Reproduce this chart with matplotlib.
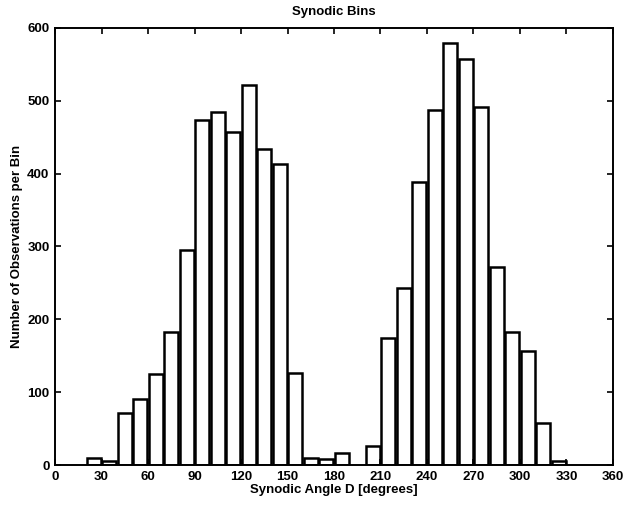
import matplotlib
matplotlib.use("Agg")
import matplotlib.pyplot as plt
import numpy as np

# bin centres (degrees) and counts per 10-degree bin
bin_centers = [25, 35, 45, 55, 65, 75, 85, 95, 105, 115, 125, 135, 145, 155, 165, 175, 185,
               205, 215, 225, 235, 245, 255, 265, 275, 285, 295, 305, 315, 325]
counts = [10, 6, 71, 91, 125, 183, 295, 473, 484, 457, 522, 434, 413, 126, 10, 8, 17,
          26, 175, 243, 388, 488, 580, 558, 492, 272, 182, 157, 58, 6]
x_ticks = [0, 30, 60, 90, 120, 150, 180, 210, 240, 270, 300, 330, 360]
y_ticks = [0, 100, 200, 300, 400, 500, 600]

plt.rcParams["font.family"] = ["Liberation Sans", "DejaVu Sans"]

fig = plt.figure(figsize=(6.26, 5.08), dpi=100)
ax = fig.add_axes([0.0879, 0.0846, 0.8913, 0.8604])

ax.bar(bin_centers, counts, width=9.0, color="white", edgecolor="black", linewidth=1.8)

ax.set_xlim(0, 360)
ax.set_ylim(0, 600)
ax.set_xticks(x_ticks)
ax.set_yticks(y_ticks)
ax.tick_params(direction="in", top=True, right=True, length=4, width=1.2,
               labelsize=9.5, pad=4)
for lab in ax.get_xticklabels() + ax.get_yticklabels():
    lab.set_fontweight("bold")
for s in ax.spines.values():
    s.set_linewidth(1.4)

ax.set_title("Synodic Bins", fontsize=9.5, fontweight="bold", pad=9)
ax.set_xlabel("Synodic Angle D [degrees]", fontsize=9.5, fontweight="bold", labelpad=1)
ax.set_ylabel("Number of Observations per Bin", fontsize=9.5, fontweight="bold", labelpad=3)

plt.savefig("out.png", dpi=100)
plt.close()
